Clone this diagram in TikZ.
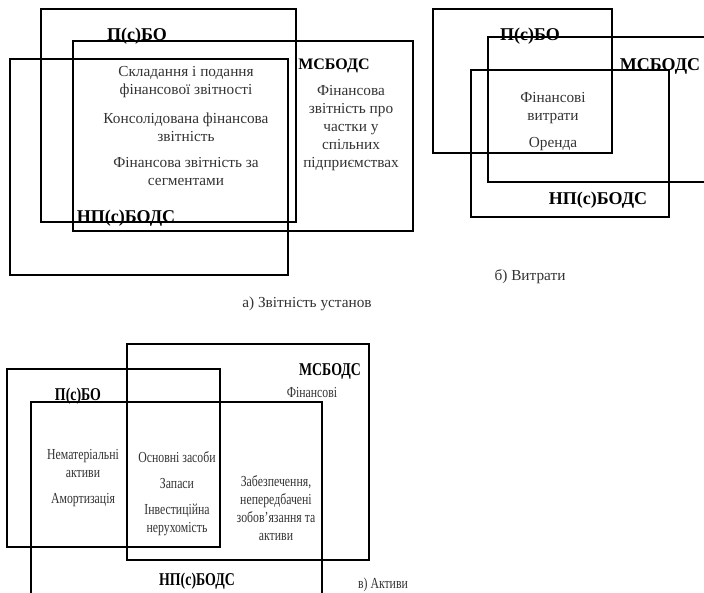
\documentclass[tikz,border=0pt]{standalone}
\usepackage{fontspec}
\setmainfont{Liberation Serif}
\begin{document}
\begin{tikzpicture}[x=1pt,y=-1pt,
  box/.style={draw, line width=1.1pt},
  lbl/.style={font=\fontsize{18}{21}\selectfont\bfseries},
  txt/.style={align=center, text=black!80, font=\fontsize{15.3}{18}\selectfont},
  capt/.style={text=black!80, font=\fontsize{15.3}{18}\selectfont},
  narrow/.style={xscale=0.77, transform shape}]
\useasboundingbox (0,0) rectangle (704,593);

% а) Звітність установ
\draw[box] (41,9) rectangle (296,222);
\draw[box, line width=1.6pt] (73,41) rectangle (413,231);
\draw[box] (10,59) rectangle (288,275);
\node[lbl] (aPSBO) at (137,36) {П(с)БО};
\node[lbl, font=\fontsize{16}{19}\selectfont\bfseries] (aMSBODS) at (334,66) {МСБОДС};
\node[lbl] (aNPSBODS) at (126,218) {НП(с)БОДС};
\node[txt] (aSklad) at (186,82) {Складання і подання\\фінансової звітності};
\node[txt] (aKons) at (186,127) {Консолідована фінансова\\звітність};
\node[txt] (aSegm) at (186,172) {Фінансова звітність за\\сегментами};
\node[txt] (aChast) at (351,128) {Фінансова\\звітність про\\частки у\\спільних\\підприємствах};
\node[capt] (aCap) at (307,304) {а) Звітність установ};

% б) Витрати
\draw[box] (433,9) rectangle (612,153);
\draw[box] (704,37) -- (488,37) -- (488,182) -- (704,182);
\draw[box] (471,70) rectangle (669,217);
\node[lbl] (bPSBO) at (530,36) {П(с)БО};
\node[lbl] (bMSBODS) at (660,66) {МСБОДС};
\node[lbl] (bNPSBODS) at (598,200) {НП(с)БОДС};
\node[txt] (bFin) at (553,108) {Фінансові\\витрати};
\node[txt] (bOrenda) at (553,144) {Оренда};
\node[capt] (bCap) at (530,277) {б) Витрати};

% в) Активи
\draw[box] (127,344) rectangle (369,560);
\draw[box] (7,369) rectangle (220,547);
\draw[box] (31,593) -- (31,402) -- (322,402) -- (322,593);
\begin{scope}[every node/.append style={narrow}]
\node[lbl] (cMSBODS) at (330,371) {МСБОДС};
\node[txt] (cFin) at (312,393) {Фінансові};
\node[lbl] (cPSBO) at (78,396) {П(с)БО};
\node[txt] (cNemat) at (83,464) {Нематеріальні\\активи};
\node[txt] (cAmort) at (83,500) {Амортизація};
\node[txt] (cOsn) at (177,457) {Основні засоби};
\node[txt] (cZap) at (177,484) {Запаси};
\node[txt] (cInv) at (177,520) {Інвестиційна\\нерухомість};
\node[txt] (cZab) at (276,508) {Забезпечення,\\непередбачені\\зобов’язання та\\активи};
\node[lbl] (cNPSBODS) at (197,581) {НП(с)БОДС};
\node[capt] (cCap) at (383,585) {в) Активи};
\end{scope}
\end{tikzpicture}
\end{document}
